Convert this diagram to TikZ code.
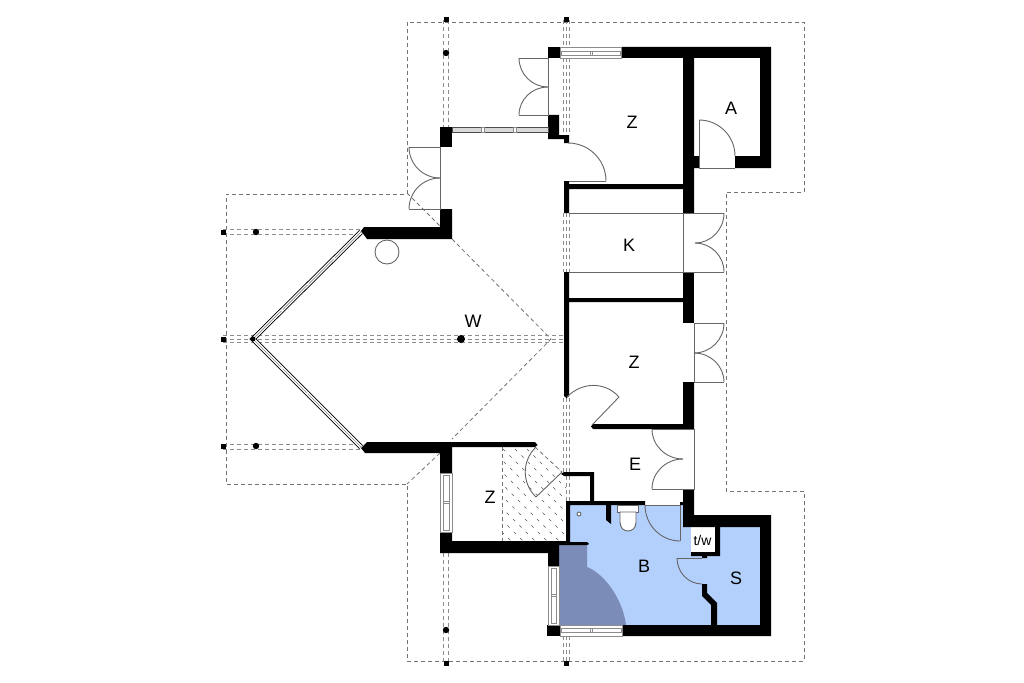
\documentclass[tikz,border=0pt]{standalone}
\usepackage{fontspec}
\setmainfont{Liberation Sans}
\usetikzlibrary{calc}
\definecolor{bathblue}{HTML}{B3CFFC}
\definecolor{hallblue}{HTML}{7A8CB7}
\newcommand{\swing}[3]{\draw[doorline] (#1) .. controls ($(#1)+0.5523*(#2)-0.5523*(#3)$) and ($(#2)+0.5523*(#1)-0.5523*(#3)$) .. (#2);}
\begin{document}
\begin{tikzpicture}[x=1pt,y=-1pt]
    \tikzset{wall/.style = {fill=black,draw=none}}
    \tikzset{doorline/.style = {draw=black!60,line width=0.9pt}}
    \tikzset{roofline/.style = {draw=black!55,line width=0.8pt,dash pattern=on 4pt off 3pt}}
    \tikzset{beamline/.style = {draw=black!45,line width=0.9pt,dash pattern=on 4pt off 3pt}}
    \tikzset{hatchline/.style = {draw=black!65,line width=0.7pt,dash pattern=on 3pt off 6pt}}
    \tikzset{winframe/.style = {draw=black!45,fill=white,line width=0.7pt}}
    \tikzset{pane/.style = {draw=black!70,fill=black!15,line width=0.8pt}}
    \tikzset{label/.style = {font=\fontsize{18}{18}\selectfont,inner sep=0pt}}
    \useasboundingbox (0,0) rectangle (1024,682);
    \fill[white] (0,0) rectangle (1024,682);
    % bathroom
    \fill[bathblue] (570,505) -- (683,505) -- (683,527) -- (691,527) -- (691,556) -- (720,556) -- (720,527) -- (760,527) -- (760,625) -- (570,625) -- cycle;
    \fill[hallblue] (559,545) -- (587,545) -- (587,567) .. controls (605,574) and (623,600) .. (626,625) -- (559,625) -- cycle;
    \fill[white] (691,527) rectangle (715,552);
    % hatching
    \begin{scope}
        \clip (502,447) -- (535,447) -- (566,476) -- (566,541) -- (502,541) -- cycle;
        \foreach \x in {340,352,...,560}
            \draw[hatchline] (\x,430) -- ++(125,125);
    \end{scope}
    % roof
    \draw[roofline] (407,194) -- (407,22) -- (804,22) -- (804,192) -- (726,192) -- (726,491) -- (804,491) -- (804,661) -- (407,661) -- (407,484) -- (226,484) -- (226,194) -- (407,194);
    \draw[roofline] (407,193) -- (440,226);
    \draw[roofline] (452,239) -- (551,339) -- (452,439);
    \draw[roofline] (440,453) -- (407,484);
    \draw[roofline] (502,447) -- (502,541);
    \draw[roofline] (535,447) -- (562,472);
    \draw[roofline] (566,476) -- (566,541);
    % beams
    \foreach \y in {229,234,444,449}
        \draw[beamline] (223,\y) -- (361,\y);
    \foreach \y in {335,339,342}
        \draw[beamline] (223,\y) -- (564,\y);
    \foreach \x in {443,448} {
        \draw[beamline] (\x,20) -- (\x,127);
        \draw[beamline] (\x,553) -- (\x,663);
    }
    \foreach \x in {563,566,569} {
        \draw[beamline] (\x,20) -- (\x,47);
        \draw[beamline] (\x,58) -- (\x,135);
        \draw[beamline] (\x,213) -- (\x,272);
        \draw[beamline] (\x,398) -- (\x,472);
        \draw[beamline] (\x,636) -- (\x,663);
    }
    \draw[beamline] (566,476) -- (566,501);
    \draw[beamline] (569,476) -- (569,501);
    % posts
    \foreach \a/\b in {223/232,223/339,223/446,446/20,566/20,446/663,566/663}
        \fill (\a-2.5,\b-2.5) rectangle (\a+2.5,\b+2.5);
    \foreach \a/\b in {256/232,256/446,446/53,446/630}
        \fill (\a,\b) circle (3.2);
    \fill (461,339) circle (4);
    % walls
    \fill[wall] (548,47) rectangle (560,58);
    \fill[wall] (621,47) -- (771,47) -- (771,168) -- (735,168) -- (735,156) -- (760,156) -- (760,58) -- (694,58) -- (694,156) -- (699,156) -- (699,168) -- (694,168) -- (694,213) -- (683,213) -- (683,58) -- (621,58) -- cycle;
    \fill[wall] (548,115) -- (559,115) -- (559,135) -- (569,135) -- (569,143) -- (564,143) -- (564,139) -- (548,139) -- cycle;
    \fill[wall] (440,127) rectangle (452,147);
    \fill[wall] (361,231) -- (364,227) -- (440,227) -- (440,209) -- (452,209) -- (452,239) -- (367,239) -- cycle;
    \fill[wall] (564,181) -- (569,181) -- (569,184) -- (683,184) -- (683,189) -- (569,189) -- (569,213) -- (564,213) -- cycle;
    \fill[wall] (683,272) rectangle (694,323);
    \fill[wall] (564,272) -- (569,272) -- (569,298) -- (683,298) -- (683,302) -- (569,302) -- (569,396) -- (566.5,398) -- (564,396) -- cycle;
    \fill[wall] (683,382) -- (694,382) -- (694,429) -- (593,429) -- (591,426.5) -- (593,424) -- (683,424) -- cycle;
    \fill[wall] (361,448) -- (367,442) -- (535,442) -- (537.5,445) -- (535,447) -- (452,447) -- (452,473) -- (440,473) -- (440,453) -- (365,453) -- cycle;
    \fill[wall] (440,532) -- (452,532) -- (452,541) -- (566,541) -- (566,501) -- (645,501) -- (645,505) -- (611,505) -- (611,524) -- (606,520) -- (606,505) -- (570,505) -- (570,542) -- (587,542) -- (589,544) -- (587,545) -- (559,545) -- (559,566) -- (548,566) -- (548,553) -- (440,553) -- cycle;
    \fill[wall] (590,476) -- (590,501) -- (594,501) -- (594,472) -- (564,472) -- (561,474) -- (564,476) -- cycle;
    \fill[wall] (683,489) -- (694,489) -- (694,515) -- (771,515) -- (771,636) -- (622,636) -- (622,625) -- (711,625) -- (711,605) -- (702,596) -- (702,584) -- (707,584) -- (707,593) -- (717,603) -- (717,625) -- (760,625) -- (760,527) -- (720,527) -- (720,556) -- (707,556) -- (707,558) -- (702,558) -- (702,556) -- (691,556) -- (691,552) -- (715,552) -- (715,527) -- (683,527) -- (683,505) -- (680,505) -- (680,502) -- (683,502) -- cycle;
    \fill[wall] (547,625) rectangle (560,636);
    % windows
    \draw[winframe] (560,47) rectangle (621,58);
    \draw[winframe] (561,51) rectangle (620,55);
    \draw[winframe] (590,51) rectangle (592,55);
    \draw[winframe] (560,625) rectangle (622,636);
    \draw[winframe] (561,628) rectangle (621,632);
    \draw[winframe] (590,628) rectangle (592,632);
    \draw[winframe] (440,473) rectangle (452,532);
    \draw[winframe] (443,475) rectangle (449,530);
    \draw[winframe] (443,501) rectangle (449,503);
    \draw[winframe] (548,566) rectangle (559,625);
    \draw[winframe] (551,568) rectangle (556,623);
    \draw[winframe] (551,594) rectangle (556,596);
    \draw[pane] (452,127) rectangle (548,132);
    \foreach \x in {483,515}
        \draw[winframe] (\x-1.5,127) rectangle (\x+1.5,132);
    % glazed front
    \draw[black,line width=5pt] (361,232) -- (253,339) -- (361,447);
    \draw[white,line width=3.2pt] (361,232) -- (253,339) -- (361,447);
    \draw[black!45,line width=0.7pt] (361,232) -- (253,339) -- (361,447);
    \foreach \a/\b in {282/310,308/284,334/258,282/368,308/393,333/419}
        \fill[white] (\a,\b) circle (1.1);
    \fill (253,339) circle (2.5);
    % doors
    \draw[doorline] (519,58) -- (548,58) -- (548,115) -- (519,115);
    \swing{519,58}{548,87}{548,58}
    \swing{519,115}{548,87}{548,115}
    \draw[doorline] (409,147) -- (440,147) -- (440,209) -- (409,209);
    \swing{409,147}{440,178}{440,147}
    \swing{409,209}{440,178}{440,209}
    \draw[doorline] (699,120) -- (699,168) -- (735,168);
    \swing{699,120}{735,156}{699,156}
    \draw[doorline] (569,181) -- (606,181);
    \swing{568,143}{606,181}{568,181}
    \draw[doorline] (569,213) -- (683,213);
    \draw[doorline] (569,272) -- (724,272);
    \draw[doorline] (683,213) -- (724,213);
    \draw[doorline] (683,213) -- (683,272);
    \swing{724,213}{695,243}{695,213}
    \swing{724,272}{695,243}{695,272}
    \draw[doorline] (724,323) -- (694,323) -- (694,382) -- (724,382);
    \swing{724,323}{694,353}{694,323}
    \swing{724,382}{694,353}{694,382}
    \draw[doorline] (592,425) -- (619,397);
    \swing{619,397}{567,397}{592,425}
    \draw[doorline] (652,429) -- (694,429) -- (694,489) -- (652,489);
    \swing{652,429}{683,459}{683,429}
    \swing{652,489}{683,459}{683,489}
    \draw[doorline] (562,472) -- (536,497);
    \swing{536,447}{536,497}{562,472}
    \draw[doorline] (645,505) -- (680,505) -- (680,541);
    \swing{645,505}{680,541}{680,505}
    \draw[doorline] (677,558) -- (702,558);
    \swing{677,558}{702,584}{702,558}
    \draw[doorline] (387,252) circle (12);
    % fittings
    \draw[doorline,fill=white] (617,505) rectangle (638,512);
    \draw[doorline,fill=white] (620,512) -- (636,512) -- (636,522) .. controls (636,534) and (620,534) .. (620,522) -- cycle;
    \draw[doorline,fill=white] (579,514) circle (2);
    % rooms
    \node[label] (roomz) at (632,122) {Z};
    \node[label] (rooma) at (731,108) {A};
    \node[label] (roomk) at (629,245) {K};
    \node[label] (roomw) at (473,321) {W};
    \node[label] (roomy) at (634,362) {Z};
    \node[label] (roome) at (635,464) {E};
    \node[label] (roomx) at (490,497) {Z};
    \node[label] (roomb) at (644,566) {B};
    \node[label] (rooms) at (736,578) {S};
    \node[font=\fontsize{14}{14}\selectfont,inner sep=0pt] (roomt) at (702.5,540) {t/w};
\end{tikzpicture}
\end{document}
